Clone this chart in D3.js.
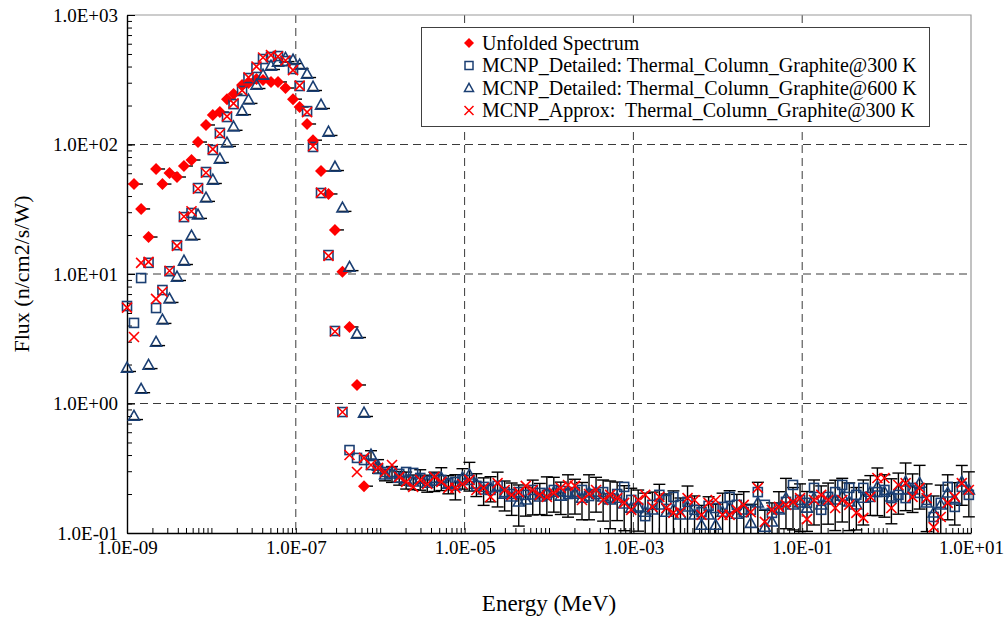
<!DOCTYPE html>
<html>
<head>
<meta charset="utf-8">
<script src="https://cdn.jsdelivr.net/npm/d3@7"></script>
<style>
  html, body { margin: 0; padding: 0; background: #fff; }
  svg { display: block; font-family: "Liberation Serif", "Times New Roman", serif; }
</style>
</head>
<body>
<svg id="chart" width="1006" height="617"></svg>
<script>
// Energy bin grid (MeV)
const energy = [
  1.00e-9, 1.21e-9, 1.47e-9, 1.80e-9, 2.21e-9, 2.63e-9, 3.19e-9, 3.91e-9, 4.73e-9, 5.81e-9,
  6.94e-9, 8.63e-9, 1.04e-8, 1.26e-8, 1.53e-8, 1.83e-8, 2.31e-8, 2.75e-8, 3.42e-8, 4.09e-8,
  5.08e-8, 6.15e-8, 7.55e-8, 9.27e-8, 1.11e-7, 1.36e-7, 1.60e-7, 1.99e-7, 2.44e-7, 2.91e-7,
  3.57e-7, 4.33e-7, 5.31e-7, 6.43e-7,
  7.78e-7, 9.43e-7, 1.14e-6, 1.38e-6, 1.68e-6, 2.03e-6, 2.46e-6, 2.98e-6, 3.61e-6, 4.38e-6, 5.30e-6, 6.42e-6,
  7.78e-6, 9.43e-6, 1.14e-5, 1.38e-5, 1.68e-5, 2.03e-5, 2.46e-5, 2.98e-5, 3.61e-5, 4.38e-5, 5.30e-5, 6.42e-5,
  7.78e-5, 9.43e-5, 1.14e-4, 1.38e-4, 1.68e-4, 2.03e-4, 2.46e-4, 2.98e-4, 3.61e-4, 4.38e-4, 5.30e-4, 6.42e-4,
  7.78e-4, 9.43e-4, 1.14e-3, 1.38e-3, 1.68e-3, 2.03e-3, 2.46e-3, 2.98e-3, 3.61e-3, 4.38e-3, 5.30e-3, 6.42e-3,
  7.78e-3, 9.43e-3, 1.14e-2, 1.38e-2, 1.68e-2, 2.03e-2, 2.46e-2, 2.98e-2, 3.61e-2, 4.38e-2, 5.30e-2, 6.42e-2,
  7.78e-2, 9.43e-2, 1.14e-1, 1.38e-1, 1.68e-1, 2.03e-1, 2.46e-1, 2.98e-1, 3.61e-1, 4.38e-1, 5.30e-1, 6.42e-1,
  7.78e-1, 9.43e-1, 1.14, 1.38, 1.68, 2.03, 2.46, 2.98, 3.61, 4.38, 5.30, 6.42,
  7.78, 9.43
];

// Unfolded spectrum (n/cm2/s/W), thermal part only
const unfolded = [
  null, 49.5, 31.8, 19.3, 64.7, 49.5, 60.2, 56.1, 68.2, 75.9,
  104.5, 141.5, 169, 178, 224, 245, 288, 298, 320, 315,
  304, 304, 273, 224, 195, 144, 108, 62.4, 41.5, 21.9,
  10.4, 3.9, 1.39, 0.23
];

// MCNP detailed model, graphite at 300 K
const detailed300 = [
  5.66, 4.19, 9.31, 12.2, 5.46, 7.52, 10.5, 16.7, 27.5, 29.6,
  46.1, 61.3, 90.7, 123, 163, 205, 259, 326, 390, 457,
  474, 482, 441, 383, 283, 181, 95.7, 42.2, 14.0, 3.63,
  0.859, 0.437, 0.380, 0.366,
  0.335, 0.312, 0.296, 0.296, 0.286, 0.296, 0.291, 0.266, 0.252, 0.266,
  0.257, 0.243, 0.248, 0.257, 0.257, 0.231, 0.227, 0.215, 0.231, 0.207,
  0.200, 0.207, 0.197, 0.215, 0.204, 0.197, 0.215, 0.211, 0.200, 0.207,
  0.215, 0.193, 0.200, 0.207, 0.186, 0.200, 0.227, 0.180, 0.156, 0.135,
  0.165, 0.197, 0.180, 0.190, 0.165, 0.174, 0.151, 0.145, 0.162, 0.156,
  0.159, 0.190, 0.165, 0.145, 0.151, 0.207, 0.165, 0.143, 0.156, 0.174,
  0.235, 0.180, 0.171, 0.223, 0.151, 0.190, 0.207, 0.235, 0.223, 0.197,
  0.223, 0.190, 0.207, 0.215, 0.186, 0.197, 0.186, 0.223, 0.204, 0.180,
  0.133, 0.171, 0.227, 0.159, 0.227, 0.197
];

// MCNP detailed model, graphite at 600 K
const detailed600 = [
  1.88, 0.80, 1.29, 1.98, 2.98, 4.42, 6.42, 9.48, 12.6, 19.7,
  28.6, 38.7, 53.2, 77.3, 103, 137, 181, 221, 288, 344,
  404, 433, 465, 449, 411, 350, 278, 202, 125, 67.0,
  32.4, 11.3, 3.44, 0.845,
  0.400, 0.329, 0.281, 0.286, 0.266, 0.257, 0.248, 0.261, 0.243, 0.252,
  0.266, 0.239, 0.231, 0.266, 0.281, 0.239, 0.215, 0.223, 0.227, 0.200,
  0.190, 0.174, 0.180, 0.197, 0.190, 0.204, 0.207, 0.193, 0.207, 0.200,
  0.186, 0.204, 0.207, 0.190, 0.180, 0.186, 0.168, 0.156, 0.159, 0.145,
  0.151, 0.165, 0.145, 0.151, 0.138, 0.159, 0.138, 0.115, 0.138, 0.115,
  0.145, 0.156, 0.140, 0.151, 0.119, 0.171, 0.111, 0.122, 0.151, 0.186,
  0.165, 0.171, 0.156, 0.186, 0.165, 0.180, 0.180, 0.193, 0.174, 0.165,
  0.186, 0.207, 0.227, 0.207, 0.190, 0.215, 0.248, 0.215, 0.243, 0.171,
  0.143, 0.165, 0.204, 0.180, 0.248, 0.215
];

// Relative statistical error of the 600 K tally above the thermal peak
const detailed600Err = [
  0.08, 0.12, 0.10, 0.14, 0.12, 0.15, 0.13, 0.18, 0.15, 0.17,
  0.20, 0.16, 0.22, 0.18, 0.25, 0.20, 0.24, 0.22, 0.30, 0.26,
  0.28, 0.35, 0.25, 0.30, 0.27, 0.33, 0.30, 0.28, 0.36, 0.30,
  0.32, 0.38, 0.30, 0.35, 0.40, 0.33, 0.38, 0.42, 0.35, 0.40,
  0.37, 0.44, 0.38, 0.40, 0.35, 0.45, 0.40, 0.42, 0.38, 0.45,
  0.40, 0.36, 0.42, 0.38, 0.40, 0.44, 0.35, 0.40, 0.38, 0.42,
  0.36, 0.40, 0.34, 0.38, 0.40, 0.35, 0.42, 0.37, 0.40, 0.36,
  0.38, 0.34, 0.40, 0.36, 0.38, 0.35, 0.40, 0.33, 0.37, 0.40,
  0.35, 0.42, 0.38, 0.36, 0.34, 0.38
];

// MCNP approximate model, graphite at 300 K
const approx300 = [
  5.5, 3.26, 12.2, 12.4, 6.42, 7.3, 10.6, 16.5, 27.8, 30.5,
  45.5, 60.5, 92, 121, 165, 208, 262, 330, 400, 470,
  490, 478, 445, 375, 285, 178, 97, 42.5, 13.8, 3.6,
  0.86, 0.400, 0.296, 0.380,
  0.335, 0.318, 0.296, 0.335, 0.271, 0.248, 0.227, 0.257, 0.239, 0.271,
  0.248, 0.223, 0.223, 0.239, 0.257, 0.215, 0.223, 0.190, 0.243, 0.215,
  0.197, 0.207, 0.231, 0.215, 0.197, 0.190, 0.204, 0.223, 0.235, 0.231,
  0.180, 0.200, 0.215, 0.180, 0.197, 0.186, 0.171, 0.151, 0.180, 0.197,
  0.159, 0.190, 0.156, 0.143, 0.145, 0.186, 0.180, 0.138, 0.171, 0.180,
  0.138, 0.138, 0.151, 0.165, 0.145, 0.223, 0.122, 0.151, 0.159, 0.165,
  0.174, 0.186, 0.128, 0.180, 0.197, 0.180, 0.156, 0.180, 0.165, 0.143,
  0.131, 0.190, 0.266, 0.266, 0.156, 0.235, 0.243, 0.190, 0.223, 0.186,
  0.111, 0.133, 0.171, 0.190, 0.243, 0.215
];

const xTicks = [1e-9, 1e-7, 1e-5, 1e-3, 1e-1, 10];
const xTickLabels = ["1.0E-09", "1.0E-07", "1.0E-05", "1.0E-03", "1.0E-01", "1.0E+01"];
const yTicks = [0.1, 1, 10, 100, 1000];
const yTickLabels = ["1.0E-01", "1.0E+00", "1.0E+01", "1.0E+02", "1.0E+03"];

const seriesNames = [
  "Unfolded Spectrum",
  "MCNP_Detailed: Thermal_Column_Graphite@300 K",
  "MCNP_Detailed: Thermal_Column_Graphite@600 K",
  "MCNP_Approx:  Thermal_Column_Graphite@300 K"
];

const RED = "#ff0000";
const NAVY = "#1b3f73";

const plot = { left: 127, right: 971, top: 15, bottom: 533 };
const x = d3.scaleLog().domain([1e-9, 10]).range([plot.left, plot.right]);
const y = d3.scaleLog().domain([0.1, 1000]).range([plot.bottom, plot.top]);

const svg = d3.select("#chart");

const pts = vals => vals.map((v, i) => ({ e: energy[i], v, i })).filter(d => d.v != null);

// dashed major gridlines
const grid = svg.append("g").attr("stroke", "#3a3a3a").attr("stroke-width", 1).attr("stroke-dasharray", "8,5");
grid.selectAll(".gx").data(xTicks.slice(1, -1)).join("line")
  .attr("x1", d => x(d)).attr("x2", d => x(d)).attr("y1", plot.top).attr("y2", plot.bottom);
grid.selectAll(".gy").data(yTicks.slice(1, -1)).join("line")
  .attr("x1", plot.left).attr("x2", plot.right).attr("y1", d => y(d)).attr("y2", d => y(d));

// plot-area border (top & right)
svg.append("path")
  .attr("d", `M${plot.left},${plot.top}H${plot.right}V${plot.bottom}`)
  .attr("fill", "none").attr("stroke", "#9a9a9a").attr("stroke-width", 1.2);

// minor tick positions 1..9 x 10^n
const minorX = [];
for (let p = -9; p < 1; p++) for (let k = 1; k <= 9; k++) minorX.push(k * Math.pow(10, p));
minorX.push(10);
const minorY = [];
for (let p = -1; p < 3; p++) for (let k = 1; k <= 9; k++) minorY.push(k * Math.pow(10, p));
minorY.push(1000);

const fontTick = "19px";

const gx = svg.append("g").attr("transform", `translate(0,${plot.bottom})`);
gx.call(d3.axisBottom(x).tickValues(minorX).tickSize(-5).tickSizeOuter(0).tickFormat(""));
const gxl = svg.append("g").attr("transform", `translate(0,${plot.bottom})`);
gxl.call(d3.axisBottom(x).tickValues(xTicks).tickSize(0).tickPadding(8).tickFormat((d, i) => xTickLabels[i]));
gxl.select(".domain").remove();

const gy = svg.append("g").attr("transform", `translate(${plot.left},0)`);
gy.call(d3.axisLeft(y).tickValues(minorY).tickSize(-5).tickSizeOuter(0).tickFormat(""));
const gyM = svg.append("g").attr("transform", `translate(${plot.left},0)`);
gyM.call(d3.axisLeft(y).tickValues(yTicks).tickSize(-8).tickPadding(17 - 8).tickFormat((d, i) => yTickLabels[i]));
gyM.select(".domain").remove();

svg.selectAll(".domain").attr("stroke", "#000").attr("stroke-width", 1.4);
svg.selectAll(".tick line").attr("stroke", "#000").attr("stroke-width", 1);
svg.selectAll(".tick text")
  .attr("font-family", '"Liberation Serif","Times New Roman",serif')
  .attr("font-size", fontTick).attr("fill", "#000");

// marker shapes
const diamondPath = s => `M0,${-s}L${s},0L0,${s}L${-s},0Z`;
const trianglePath = s => `M0,${-s * 1.05}L${s},${s * 0.75}L${-s},${s * 0.75}Z`;
const crossPath = s => `M${-s},${-s}L${s},${s}M${-s},${s}L${s},${-s}`;

const nPeak = unfolded.length;

// error bars of the 600 K tally
const eb = svg.append("g").attr("stroke", "#000").attr("stroke-width", 1.4);
const d600 = pts(detailed600);
d600.forEach(d => {
  const cx = x(d.e), cy = y(d.v);
  if (d.i < nPeak) {
    eb.append("line").attr("x1", cx - 4).attr("x2", cx + 9).attr("y1", cy + 3.5).attr("y2", cy + 3.5);
  } else {
    const r = detailed600Err[d.i - nPeak];
    const hi = y(d.v * (1 + r)), lo = y(Math.max(d.v * (1 - r), 0.1));
    eb.append("line").attr("x1", cx).attr("x2", cx).attr("y1", hi).attr("y2", lo);
    eb.append("line").attr("x1", cx - 6).attr("x2", cx + 6).attr("y1", hi).attr("y2", hi);
    if (d.v * (1 - r) > 0.1)
      eb.append("line").attr("x1", cx - 6).attr("x2", cx + 6).attr("y1", lo).attr("y2", lo);
  }
});
// small error caps on the unfolded points
pts(unfolded).forEach(d => {
  eb.append("line").attr("x1", x(d.e)).attr("x2", x(d.e) + 9).attr("y1", y(d.v)).attr("y2", y(d.v));
});

// unfolded spectrum: filled red diamonds
svg.append("g").selectAll("path").data(pts(unfolded)).join("path")
  .attr("transform", d => `translate(${x(d.e)},${y(d.v)})`)
  .attr("d", diamondPath(6)).attr("fill", RED);

// detailed 300 K: open squares
svg.append("g").selectAll("rect").data(pts(detailed300)).join("rect")
  .attr("x", d => x(d.e) - 4.5).attr("y", d => y(d.v) - 4.5)
  .attr("width", 9).attr("height", 9)
  .attr("fill", "none").attr("stroke", NAVY).attr("stroke-width", 1.6);

// detailed 600 K: open triangles
svg.append("g").selectAll("path").data(d600).join("path")
  .attr("transform", d => `translate(${x(d.e)},${y(d.v)})`)
  .attr("d", trianglePath(5.5))
  .attr("fill", "none").attr("stroke", NAVY).attr("stroke-width", 1.6);

// approximate 300 K: red crosses
svg.append("g").selectAll("path").data(pts(approx300)).join("path")
  .attr("transform", d => `translate(${x(d.e)},${y(d.v)})`)
  .attr("d", crossPath(5))
  .attr("fill", "none").attr("stroke", RED).attr("stroke-width", 1.6);

// legend
const lg = svg.append("g");
lg.append("rect").attr("x", 421.5).attr("y", 27.5).attr("width", 508).attr("height", 99)
  .attr("fill", "#fff").attr("stroke", "#404040").attr("stroke-width", 1);
const rowY = [43, 65.5, 88, 110.5];
const mx = 469;
lg.append("path").attr("transform", `translate(${mx},${rowY[0]})`).attr("d", diamondPath(5)).attr("fill", RED);
lg.append("rect").attr("x", mx - 4).attr("y", rowY[1] - 4).attr("width", 8).attr("height", 8)
  .attr("fill", "none").attr("stroke", NAVY).attr("stroke-width", 1.5);
lg.append("path").attr("transform", `translate(${mx},${rowY[2]})`).attr("d", trianglePath(4.5))
  .attr("fill", "none").attr("stroke", NAVY).attr("stroke-width", 1.5);
lg.append("path").attr("transform", `translate(${mx},${rowY[3]})`).attr("d", crossPath(4.5))
  .attr("fill", "none").attr("stroke", RED).attr("stroke-width", 1.5);
lg.selectAll("text").data(seriesNames).join("text")
  .attr("x", 482).attr("y", (d, i) => rowY[i]).attr("dy", "0.34em")
  .attr("font-size", "20px").style("white-space", "pre")
  .text(d => d);

// axis titles
svg.append("text").attr("x", (plot.left + plot.right) / 2).attr("y", 611)
  .attr("text-anchor", "middle").attr("font-size", "23px").text("Energy (MeV)");
svg.append("text").attr("transform", `translate(29,${(plot.top + plot.bottom) / 2}) rotate(-90)`)
  .attr("text-anchor", "middle").attr("font-size", "22px").text("Flux (n/cm2/s/W)");
</script>
</body>
</html>
